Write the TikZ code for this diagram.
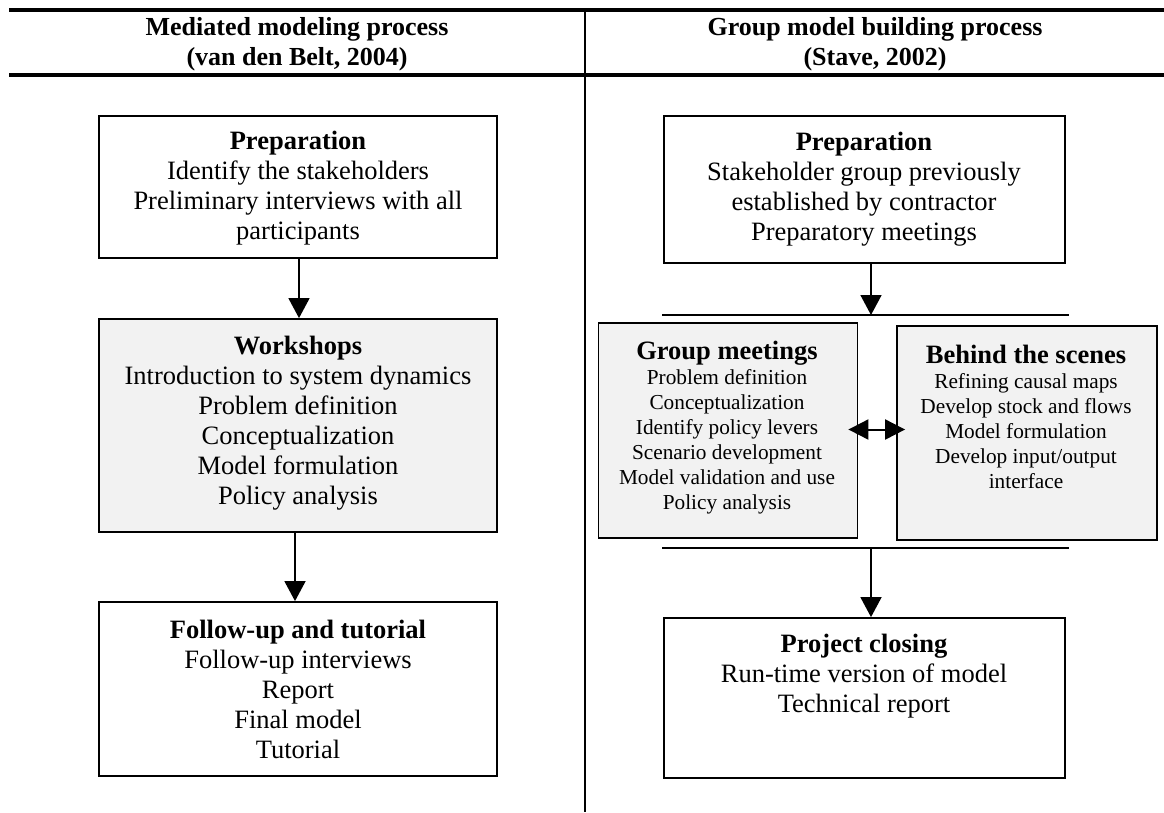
\documentclass[tikz,border=0pt]{standalone}
\usepackage{fontspec}
\setmainfont{Liberation Serif}
\usetikzlibrary{arrows.meta,calc}
\definecolor{boxgray}{RGB}{242,242,242}
\tikzset{
  box/.style={draw, line width=1.8pt, inner sep=0pt},
  graybox/.style={box, fill=boxgray},
  txt/.style={align=center, inner sep=0pt, font=\fontsize{26.5}{30}\selectfont},
  smalltxt/.style={align=center, inner sep=0pt, font=\fontsize{21.3}{25}\selectfont},
  hdr/.style={align=center, inner sep=0pt, font=\bfseries\fontsize{26}{29.5}\selectfont},
  thickrule/.style={line width=4.5pt},
  thinrule/.style={line width=1.6pt},
  arr/.style={-{Triangle[width=21pt,length=20pt]}, line width=1.6pt},
  darr/.style={{Triangle[width=20pt,length=20pt]}-{Triangle[width=20pt,length=20pt]}, line width=2pt}
}
\begin{document}
\begin{tikzpicture}[x=1pt,y=-1pt]
\useasboundingbox (0,0) rectangle (1164,812);
% header rules and divider
\coordinate (t1w) at (9,10);
\coordinate (t1e) at (1164,10);
\coordinate (t2w) at (9,75);
\coordinate (t2e) at (1164,75);
\coordinate (vtop) at (585,8);
\coordinate (vbot) at (585,812);
\draw[thickrule] (t1w) -- (t1e);
\draw[thickrule] (t2w) -- (t2e);
\draw[line width=2pt] (vtop) -- (vbot);
\node[hdr] (hL) at (297,44) {Mediated modeling process\\(van den Belt, 2004)};
\node[hdr] (hR) at (875,44) {Group model building process\\(Stave, 2002)};

% left column
\node[box, minimum width=398pt, minimum height=142pt] (prepL) at (298,187) {};
\node[txt] (prepLt) at (298,188) {\textbf{Preparation}\\Identify the stakeholders\\Preliminary interviews with all\\participants};
\node[graybox, minimum width=398pt, minimum height=213pt] (workL) at (298,425.5) {};
\node[txt] (workLt) at (298,423) {\textbf{Workshops}\\Introduction to system dynamics\\Problem definition\\Conceptualization\\Model formulation\\Policy analysis};
\node[box, minimum width=398pt, minimum height=174pt] (follL) at (298,689) {};
\node[txt] (follLt) at (298,689) {\textbf{Follow-up and tutorial}\\Follow-up interviews\\Report\\Final model\\Tutorial};
\draw[arr] ([xshift=1pt]prepL.south) -- ([xshift=1pt]workL.north);
\draw[arr] ([xshift=-3pt]workL.south) -- ([xshift=-3pt]follL.north);

% right column
\node[box, minimum width=401pt, minimum height=147pt] (prepR) at (864.5,189.5) {};
\node[txt] (prepRt) at (864,189) {\textbf{Preparation}\\Stakeholder group previously\\established by contractor\\Preparatory meetings};
\coordinate (r1w) at (662,315);
\coordinate (r1e) at (1069,315);
\coordinate (r1a) at (871,315);
\draw[thinrule] (r1w) -- (r1e);
\draw[arr] (prepR.south -| r1a) -- (r1a);

\node[graybox, minimum width=259pt, minimum height=215pt] (grp) at (728,430.5) {};
\node[smalltxt] (grpt) at (727,427.5) {{\bfseries\fontsize{26.5}{25}\selectfont Group meetings}\\Problem definition\\Conceptualization\\Identify policy levers\\Scenario development\\Model validation and use\\Policy analysis};
\node[graybox, minimum width=260pt, minimum height=214pt] (bhd) at (1027,433) {};
\node[smalltxt] (bhdt) at (1026,417) {{\bfseries\fontsize{26.5}{25}\selectfont Behind the scenes}\\Refining causal maps\\Develop stock and flows\\Model formulation\\Develop input/output\\interface};
\coordinate (dal) at ([shift={(-10,-1)}]grp.east);
\draw[darr] (dal) -- ([xshift=9pt]bhd.west |- dal);

\coordinate (r2w) at (662,548);
\coordinate (r2e) at (1069,548);
\coordinate (r2a) at (871,548);
\draw[thinrule] (r2w) -- (r2e);
\node[box, minimum width=401pt, minimum height=160pt] (projR) at (864.5,698) {};
\node[txt] (projRt) at (864,676) {\textbf{Project closing}\\Run-time version of model\\Technical report};
\draw[arr] (r2a) -- (r2a |- projR.north);
\end{tikzpicture}
\end{document}
